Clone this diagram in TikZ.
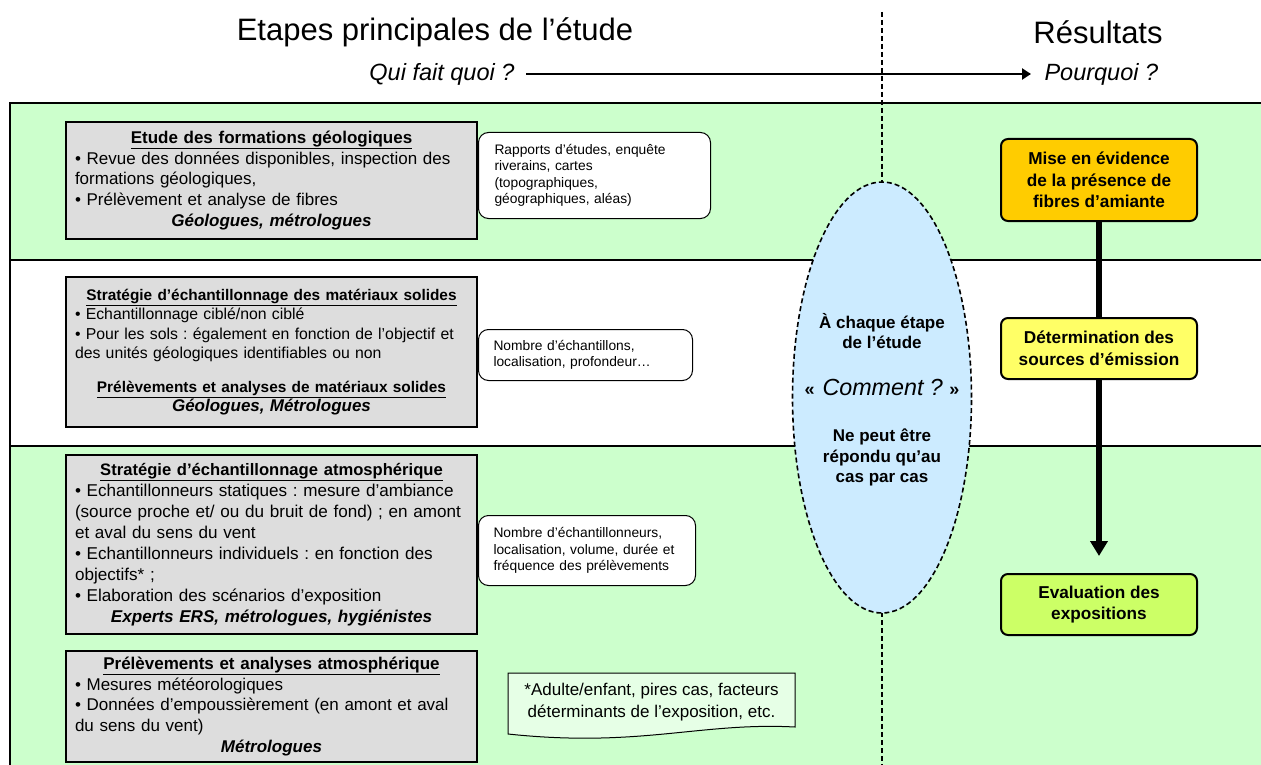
\documentclass[tikz,border=0pt]{standalone}
\usepackage{fontspec}
\setmainfont{Liberation Sans}
\usetikzlibrary{shapes.geometric,arrows.meta,calc}
\definecolor{bandgreen}{HTML}{CCFFCC}
\definecolor{boxgray}{HTML}{DDDDDD}
\definecolor{ellblue}{HTML}{CCEBFF}
\definecolor{resorange}{HTML}{FFCC00}
\definecolor{resyellow}{HTML}{FFFF66}
\definecolor{reslime}{HTML}{CCFF66}
\definecolor{notegreen}{HTML}{E6FFE6}
\newcommand{\fsz}[2]{\fontsize{#1}{#2}\selectfont}
\newcommand{\ctrline}[1]{\makebox[\linewidth][c]{#1}}
\frenchspacing
\tikzset{
  graybox/.style={draw=black, line width=2pt, fill=boxgray, text width=393pt, align=left, inner xsep=9pt, inner ysep=6pt},
  infobox/.style={draw=black, line width=1pt, fill=white, rounded corners=10pt, align=left, anchor=north west, inner xsep=16pt, inner ysep=6pt, font=\fsz{13.8}{16.5}},
  resbox/.style={draw=black, line width=2pt, rounded corners=7pt, align=center, minimum width=196pt, font=\bfseries\fsz{17.2}{21.5}},
  bandline/.style={draw=black, line width=1.2pt},
}
\begin{document}
\begin{tikzpicture}[x=1pt,y=-1pt]
\useasboundingbox (0,0) rectangle (1261,765);
% bands
\fill[bandgreen] (10,103) rectangle (1261,260);
\fill[white] (10,260) rectangle (1261,446);
\fill[bandgreen] (10,446) rectangle (1261,765);
\draw[line width=2pt] (10,765) -- (10,103) -- (1261,103);
\draw[bandline] (10,260) -- (1261,260);
\draw[bandline] (10,446) -- (1261,446);
% dashed vertical line
\draw[line width=1.6pt, dash pattern=on 5pt off 3pt] (882,12) -- (882,765);
% titles
\node[font=\fsz{31}{34}] (t1) at (435,32) {Etapes principales de l’étude};
\node[font=\fsz{31}{34}] (t2) at (1098,32) {Résultats};
\node[anchor=east, font=\itshape\fsz{23.5}{26}] (q) at (518,74) {Qui fait quoi ?};
\node[anchor=west, font=\itshape\fsz{23.5}{26}] (p) at (1041,74) {Pourquoi ?};
\draw[line width=2.5pt, -{Triangle[width=11pt,length=9pt]}] ($(q.east)+(8,0)$) -- ($(p.west)+(-10,0)$);
% gray boxes
\node[graybox, minimum height=117pt, font=\fsz{17}{20.8}] (g1) at (271.5,180.5) {%
\ctrline{\bfseries\underline{Etude des formations géologiques}}\\
• Revue des données disponibles, inspection des\\
formations géologiques,\\
• Prélèvement et analyse de fibres\\
\ctrline{\bfseries\itshape Géologues, métrologues}};
\node[graybox, minimum height=150pt, font=\fsz{15.8}{19.5}] (g2) at (271.5,352) {%
\ctrline{\fsz{15.4}{19.5}\bfseries\underline{Stratégie d’échantillonnage des matériaux solides}}\\
• Echantillonnage ciblé/non ciblé\\
• Pour les sols : également en fonction de l’objectif et\\
des unités géologiques identifiables ou non\\[14pt]
\ctrline{\fsz{15.4}{19.5}\bfseries\underline{Prélèvements et analyses de matériaux solides}}\\
\ctrline{\fsz{17}{20.5}\bfseries\itshape Géologues, Métrologues}};
\node[graybox, minimum height=179pt, font=\fsz{17.1}{21}] (g3) at (271.5,544.5) {%
\ctrline{\fsz{16.6}{21}\bfseries\underline{Stratégie d’échantillonnage atmosphérique}}\\
• Echantillonneurs statiques : mesure d’ambiance\\
(source proche et/ ou du bruit de fond) ; en amont\\
et aval du sens du vent\\
• Echantillonneurs individuels : en fonction des\\
objectifs* ;\\
• Elaboration des scénarios d’exposition\\
\ctrline{\bfseries\itshape Experts ERS, métrologues, hygiénistes}};
\node[graybox, minimum height=107pt, font=\fsz{17}{20.7}] (g4) at (271.5,706.5) {%
\ctrline{\bfseries\underline{Prélèvements et analyses atmosphérique}}\\
• Mesures météorologiques\\
• Données d’empoussièrement (en amont et aval\\
du sens du vent)\\
\ctrline{\bfseries\itshape Métrologues}};
% info boxes
\node[infobox, text width=200pt, minimum height=86pt] (i1) at (478,132) {Rapports d’études, enquête\\ riverains, cartes\\ (topographiques,\\ géographiques, aléas)};
\node[infobox, text width=184pt, minimum height=51pt, inner xsep=15pt] (i2) at (478,329) {Nombre d’échantillons,\\ localisation, profondeur…};
\node[infobox, text width=187pt, minimum height=70pt, inner xsep=15pt] (i3) at (478,515) {Nombre d’échantillonneurs,\\ localisation, volume, durée et\\ fréquence des prélèvements};
% note box with wavy bottom
\filldraw[fill=notegreen, draw=black, line width=1pt] (508,673) -- (795,673) -- (795,727) .. controls (700,722) and (640,748) .. (508,734) -- cycle;
\node[align=center, font=\fsz{17}{21.5}] (nt) at (651.5,702) {*Adulte/enfant, pires cas, facteurs\\ déterminants de l’exposition, etc.};
% ellipse
\node[ellipse, draw=black, line width=1.6pt, dash pattern=on 5pt off 3pt, fill=ellblue, minimum width=179pt, minimum height=431pt, inner sep=0pt] (el) at (882,397.5) {};
\node[align=center, font=\bfseries\fsz{17}{20.5}] (eltxt) at ($(el.center)+(0,2)$) {À chaque étape\\ de l’étude\\[26pt]
\fsz{18}{24}«\, \mdseries\itshape\fsz{23.3}{24}Comment ? \upshape\bfseries\fsz{18}{24}»\\[26pt]
Ne peut être\\ répondu qu’au\\ cas par cas};
% result boxes and arrow
\coordinate (ra) at (1099,138);
\node[resbox, fill=resorange, minimum height=82pt, anchor=north] (r1) at (ra) {Mise en évidence\\ de la présence de\\ fibres d’amiante};
\coordinate (tip) at (1099,556);
\draw[line width=5.5pt, -{Triangle[width=17pt,length=15pt]}] (r1.south) -- (tip);
\node[resbox, fill=resyellow, minimum height=61pt] (r2) at (1099,348.5) {Détermination des\\ sources d’émission};
\node[resbox, fill=reslime, minimum height=61pt] (r3) at (1099,604.5) {Evaluation des\\ expositions};
\end{tikzpicture}
\end{document}
